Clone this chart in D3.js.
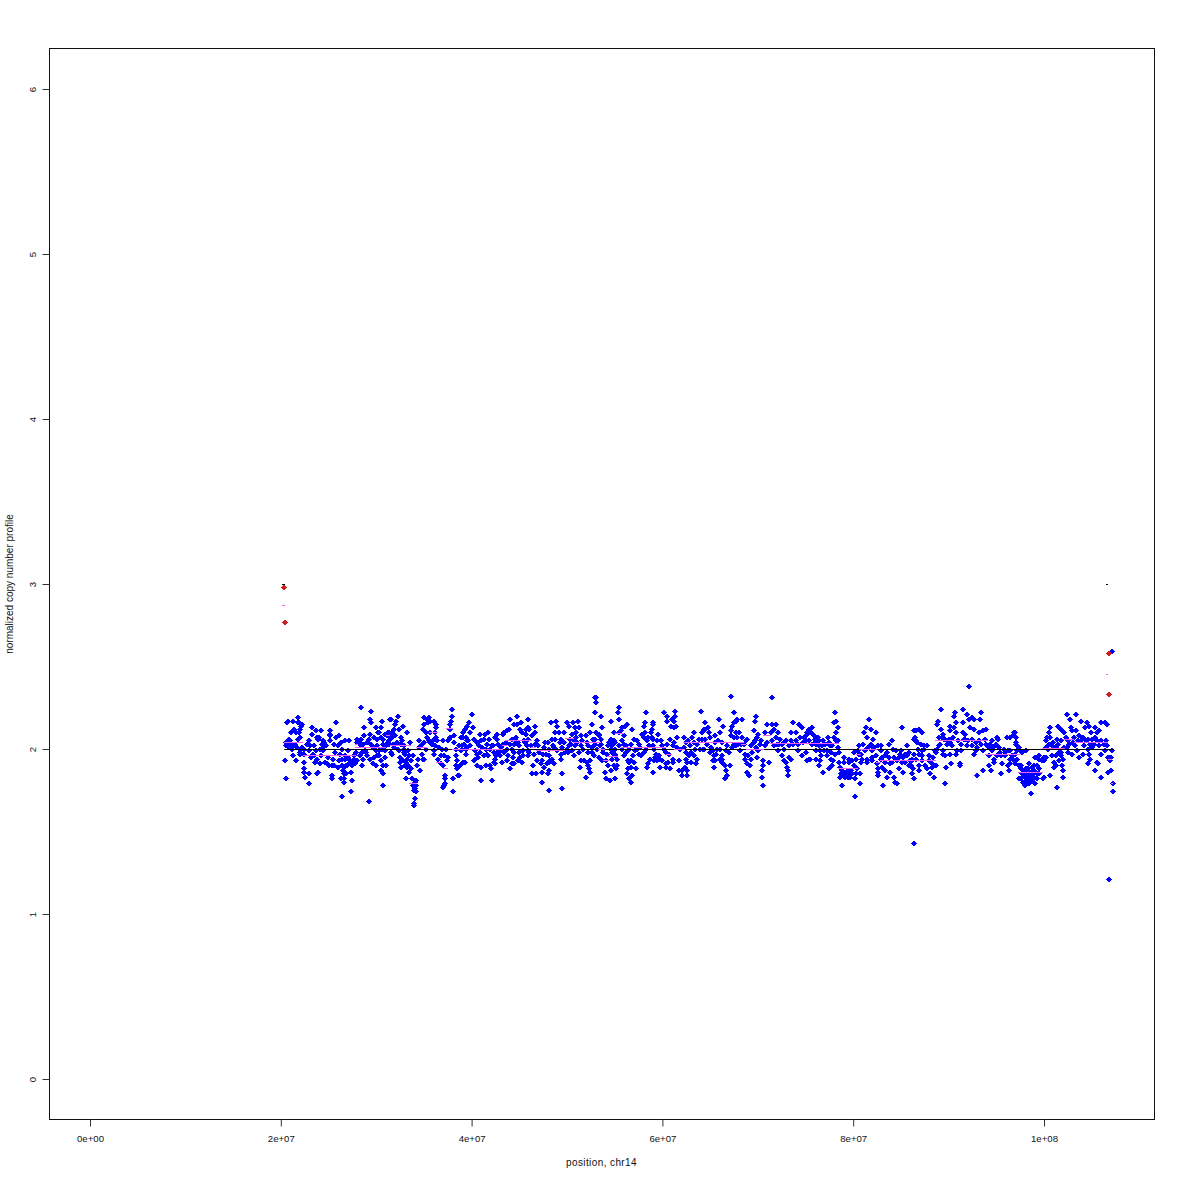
<!DOCTYPE html>
<html><head><meta charset="utf-8">
<script src="https://cdn.jsdelivr.net/npm/d3@7/dist/d3.min.js"></script>
<style>html,body{margin:0;padding:0;background:#fff}svg{display:block}text{font-family:"Liberation Sans",Arial,sans-serif;fill:#111}</style>
</head><body><div id="c"></div>
<script>
// [position in Mb, normalized copy number]
const bluePts20to31=[[21.7,2.19],[20.6,2.16],[20.7,2.17],[21.2,2.17],[21.7,2.16],[21.8,2.16],[22.2,2.15],[22.1,2.14],[21.0,2.10],[21.5,2.10],[21.8,2.10],[22.0,2.07],[21.7,2.06],[20.8,2.06],[20.5,2.04],[20.9,2.03],[21.1,2.03],[21.4,2.03],[20.5,2.02],[21.6,2.01],[20.8,2.01],[21.1,2.00],[22.0,2.00],[22.4,2.00],[22.0,1.98],[22.4,1.97],[21.2,1.96],[20.4,1.93],[21.5,1.93],[22.4,1.92],[22.4,1.88],[22.4,1.86],[22.5,1.83],[20.5,1.82],[22.9,1.79],[22.9,1.85],[23.2,2.13],[23.6,2.11],[24.2,2.11],[23.2,2.09],[23.7,2.07],[23.9,2.07],[23.8,2.06],[24.4,2.05],[24.3,2.03],[24.6,2.03],[23.0,2.02],[23.4,2.02],[24.4,2.01],[22.9,2.05],[23.6,1.99],[22.9,1.99],[24.0,2.00],[24.4,1.99],[23.4,1.96],[24.2,1.96],[23.7,1.94],[24.6,1.92],[23.8,1.86],[23.7,1.85],[25.3,1.84],[25.3,1.82],[24.8,1.91],[25.0,1.90],[25.3,1.90],[25.5,1.90],[25.1,2.11],[25.1,2.09],[25.1,2.08],[25.7,2.16],[26.0,2.08],[25.7,2.07],[25.1,2.05],[25.4,1.94],[25.6,1.98],[26.0,1.93],[25.9,1.89],[26.3,1.90],[26.6,1.89],[26.8,1.90],[26.6,1.85],[26.2,1.82],[26.6,1.82],[26.6,1.80],[26.3,1.71],[27.3,1.74],[27.4,1.81],[27.3,1.86],[26.8,1.85],[26.2,2.04],[26.7,2.05],[27.1,2.05],[26.4,2.00],[27.0,1.99],[26.7,1.96],[26.7,1.94],[27.6,1.96],[27.2,1.93],[27.1,1.91],[26.9,1.90],[27.6,1.94],[27.9,1.93],[27.5,1.92],[28.3,2.25],[29.4,2.23],[29.3,2.18],[29.4,2.16],[28.7,2.13],[27.9,2.06],[28.3,2.06],[27.9,2.04],[28.3,2.02],[28.6,2.03],[29.2,2.06],[29.0,2.04],[29.4,2.03],[28.8,1.99],[28.9,1.98],[29.0,1.96],[28.6,1.94],[28.5,1.90],[29.9,2.13],[30.2,2.10],[30.4,2.13],[30.5,2.17],[30.0,2.06],[30.4,2.07],[30.7,2.06],[30.0,2.02],[29.9,1.99],[30.2,1.99],[30.0,1.96],[29.7,1.95],[29.3,1.94],[30.4,1.93],[29.6,1.91],[29.9,1.90],[30.4,1.87],[30.6,1.85],[30.7,1.90],[31.0,1.90],[30.7,1.78],[29.2,1.68],[30.9,2.09],[31.2,2.10],[31.3,2.08],[31.2,2.04],[31.0,2.02],[30.9,1.99],[31.4,2.18],[24.5,2.04],[24.7,2.02],[24.2,2.00],[23.3,1.97],[20.9,2.05],[21.3,2.02],[21.9,1.97],[22.2,2.01],[27.4,1.90],[27.7,1.91],[26.5,1.87],[27.0,1.95],[28.1,2.04],[29.6,2.01],[30.2,1.96],[30.6,2.03]];
const bluePts31to42=[[32.2,2.20],[32.0,2.17],[31.5,2.18],[31.9,2.15],[31.8,2.12],[31.6,2.10],[31.3,2.10],[31.1,2.08],[31.4,2.08],[31.3,2.05],[31.6,2.07],[31.3,2.03],[31.7,2.03],[32.3,2.12],[32.7,2.14],[32.5,2.07],[32.6,2.05],[32.1,2.04],[32.5,2.03],[32.8,2.02],[33.2,2.10],[33.5,2.04],[32.9,2.00],[33.3,1.99],[32.8,1.98],[31.6,1.97],[32.4,1.95],[32.4,1.92],[32.5,1.89],[33.2,1.94],[33.4,1.96],[33.1,1.92],[33.3,1.90],[33.0,1.90],[33.2,1.89],[33.6,1.93],[33.6,1.88],[33.4,1.86],[34.2,1.90],[34.5,1.87],[33.1,1.82],[33.7,1.82],[34.0,1.80],[34.1,1.78],[34.0,1.76],[33.9,1.75],[34.1,1.74],[34.0,1.70],[33.9,1.67],[33.9,1.66],[34.4,2.05],[34.4,2.01],[34.3,1.94],[34.7,1.97],[34.8,1.94],[34.9,1.94],[34.9,2.19],[34.9,2.15],[34.8,2.12],[35.3,2.18],[35.5,2.19],[35.6,2.17],[35.4,2.16],[36.0,2.17],[36.2,2.15],[36.2,2.13],[35.2,2.10],[35.6,2.10],[36.1,2.10],[35.3,2.07],[35.5,2.05],[35.6,2.04],[36.2,2.07],[36.3,2.05],[36.1,2.02],[36.0,1.99],[36.0,1.97],[36.4,1.94],[36.7,1.96],[37.0,1.96],[37.5,1.95],[36.7,1.91],[36.9,1.90],[37.2,1.84],[37.2,1.82],[37.1,1.79],[37.0,1.78],[36.9,1.77],[38.0,1.74],[38.0,1.82],[38.5,1.84],[38.6,1.84],[36.9,2.05],[37.5,2.05],[37.3,2.00],[37.6,2.06],[37.7,2.07],[38.1,2.08],[38.1,2.04],[37.8,2.17],[37.9,2.20],[37.9,2.24],[37.7,2.15],[37.7,2.12],[38.3,2.00],[38.3,1.96],[38.4,1.93],[38.8,2.07],[39.0,2.10],[39.2,2.12],[39.0,2.07],[39.5,2.14],[39.7,2.16],[39.3,2.07],[39.5,2.05],[39.6,2.05],[38.9,2.02],[39.3,2.00],[39.5,2.01],[39.8,2.10],[40.1,2.13],[40.0,2.21],[38.9,2.00],[38.8,1.99],[38.4,1.88],[38.7,1.90],[39.0,1.92],[39.2,1.92],[38.3,1.90],[40.3,1.99],[40.5,1.97],[40.3,1.94],[40.2,1.93],[40.6,1.95],[40.5,1.90],[40.9,1.89],[41.4,1.90],[41.9,1.90],[42.0,1.88],[40.9,1.81],[42.1,1.81],[40.8,2.09],[41.3,2.09],[41.7,2.10],[40.5,2.04],[40.9,2.05],[41.2,2.06],[40.7,2.02],[41.0,2.01],[41.6,2.03],[41.4,2.00],[41.5,1.97],[41.7,1.96],[41.9,2.00],[42.1,2.02],[42.4,2.07],[42.3,1.98],[42.4,1.94],[42.4,1.91],[35.8,2.03],[39.4,1.97],[31.8,2.01],[32.2,2.00],[33.0,1.97],[34.1,1.81],[33.8,1.78]];
const bluePts42to53=[[53.0,2.31],[53.0,2.28],[52.9,2.22],[44.7,2.20],[44.0,2.18],[45.8,2.18],[44.4,2.15],[44.7,2.15],[45.1,2.16],[46.6,2.14],[45.9,2.13],[45.6,2.12],[46.0,2.12],[45.0,2.12],[43.9,2.12],[43.3,2.10],[42.6,2.09],[43.7,2.11],[43.2,2.09],[44.5,2.06],[44.2,2.06],[45.2,2.10],[45.6,2.09],[46.3,2.08],[46.6,2.10],[42.6,2.06],[43.0,2.01],[43.5,2.04],[44.0,2.03],[44.4,2.03],[44.8,2.04],[45.4,2.05],[45.9,2.06],[46.8,2.05],[46.6,2.03],[46.2,2.02],[45.7,2.02],[42.2,2.02],[43.0,1.99],[42.6,1.98],[42.5,1.96],[42.9,1.96],[43.3,1.98],[43.7,2.00],[44.2,2.00],[44.4,1.98],[44.9,1.98],[45.3,1.99],[45.8,1.99],[45.0,1.95],[45.8,1.96],[42.3,1.92],[43.6,1.93],[43.1,1.92],[44.0,1.88],[44.2,1.91],[44.4,1.91],[44.8,1.93],[45.2,1.92],[46.4,1.90],[42.1,1.81],[46.3,1.85],[46.7,1.85],[47.3,1.86],[47.3,1.80],[48.1,1.75],[49.4,1.76],[49.4,1.85],[47.9,1.85],[48.1,1.87],[47.5,1.89],[47.2,1.91],[46.8,1.93],[47.3,1.93],[47.0,1.98],[47.5,2.01],[48.0,2.00],[48.0,1.96],[47.7,1.97],[48.4,1.94],[48.2,1.93],[48.6,1.91],[49.3,1.97],[49.3,1.94],[50.7,1.96],[47.6,2.04],[48.3,2.16],[48.8,2.17],[48.9,2.14],[48.7,2.10],[49.1,2.10],[48.4,2.06],[48.7,2.06],[49.3,2.06],[49.6,2.10],[49.2,2.04],[49.6,2.04],[48.6,2.01],[49.4,2.01],[49.9,2.16],[50.1,2.14],[50.6,2.16],[51.1,2.17],[50.8,2.13],[51.2,2.13],[50.9,2.10],[50.5,2.09],[50.3,2.06],[50.7,2.05],[50.1,2.02],[51.4,2.08],[51.9,2.08],[51.5,2.05],[52.1,2.02],[50.8,2.02],[51.4,2.02],[49.9,2.00],[50.5,1.99],[51.2,1.98],[52.1,1.98],[52.6,2.01],[53.1,2.00],[53.4,2.02],[52.9,2.06],[52.7,2.06],[53.3,2.09],[53.0,2.10],[52.6,2.15],[51.4,1.93],[51.7,1.93],[52.0,1.92],[52.3,1.93],[52.1,1.90],[52.2,1.88],[51.9,1.83],[51.3,1.89],[52.4,1.86],[52.8,1.96],[53.3,1.95],[52.6,1.98],[44.6,2.07],[47.8,1.91],[48.0,1.92],[50.0,1.98],[50.2,2.03],[51.0,2.04],[45.5,2.04]];
const bluePts53to64=[[52.9,2.31],[53.0,2.28],[55.4,2.25],[55.3,2.22],[55.4,2.18],[53.5,2.20],[54.5,2.17],[53.6,2.13],[58.2,2.22],[60.1,2.22],[61.3,2.23],[60.4,2.20],[61.3,2.20],[61.2,2.17],[60.9,2.18],[60.4,2.17],[58.1,2.16],[58.9,2.16],[59.0,2.15],[58.0,2.14],[58.8,2.12],[60.8,2.14],[61.4,2.14],[61.2,2.13],[64.0,2.23],[64.4,2.16],[56.8,2.12],[56.2,2.15],[56.0,2.14],[55.7,2.13],[55.6,2.11],[54.9,2.10],[55.4,2.10],[55.9,2.08],[53.3,2.08],[53.5,2.06],[54.3,2.04],[54.9,2.05],[55.0,2.04],[55.7,2.05],[55.9,2.03],[56.1,2.02],[57.0,2.06],[57.3,2.05],[57.5,2.03],[57.8,2.09],[58.1,2.10],[58.7,2.10],[58.8,2.07],[58.0,2.07],[58.3,2.05],[58.9,2.06],[59.5,2.09],[59.4,2.05],[59.9,2.02],[60.4,2.03],[61.2,2.04],[61.0,2.02],[61.5,2.07],[62.2,2.07],[63.3,2.10],[64.3,2.12],[64.1,2.10],[63.8,2.06],[64.1,2.06],[62.4,2.04],[63.2,2.04],[62.8,2.02],[53.7,2.00],[54.5,2.00],[55.0,2.00],[55.0,1.96],[53.7,1.98],[54.1,1.97],[54.7,1.98],[55.0,1.97],[55.2,1.94],[54.7,1.94],[54.0,1.93],[54.2,1.90],[54.9,1.90],[55.2,1.90],[54.6,1.87],[55.1,1.88],[53.9,1.86],[54.0,1.82],[54.4,1.81],[55.0,1.82],[53.6,1.93],[55.7,2.00],[56.1,1.98],[56.4,2.00],[56.9,1.96],[57.5,1.97],[56.6,1.93],[56.3,1.93],[56.4,1.92],[57.0,1.92],[56.6,1.89],[57.2,1.88],[56.3,1.88],[56.2,1.85],[56.7,1.84],[56.4,1.82],[56.6,1.80],[57.7,1.96],[58.0,1.98],[57.1,1.99],[58.2,2.00],[58.5,2.02],[59.1,2.00],[59.6,1.96],[59.2,1.95],[59.7,1.94],[59.4,1.93],[59.9,1.93],[58.4,1.91],[58.3,1.89],[58.9,1.86],[59.7,1.89],[60.3,1.91],[60.5,1.92],[60.3,1.89],[60.7,1.88],[61.0,1.94],[61.1,1.92],[61.7,1.93],[60.3,1.98],[60.6,1.97],[61.8,2.00],[62.4,1.98],[62.9,1.98],[63.4,2.00],[63.9,2.00],[64.3,2.00],[62.7,1.96],[62.4,1.94],[62.5,1.92],[62.9,1.92],[63.5,1.91],[63.6,1.94],[62.3,1.89],[62.5,1.87],[62.5,1.84],[62.0,1.87],[62.0,1.84],[61.7,1.87],[54.7,2.02],[58.6,1.94],[59.1,1.93],[59.3,1.97],[63.2,1.96]];
const bluePts64to75=[[67.1,2.32],[71.4,2.31],[64.0,2.23],[67.4,2.22],[65.9,2.18],[67.8,2.18],[68.3,2.18],[69.8,2.20],[69.6,2.17],[64.4,2.16],[64.7,2.13],[66.3,2.14],[67.4,2.16],[67.2,2.14],[67.6,2.17],[67.1,2.11],[69.5,2.11],[64.3,2.11],[64.8,2.10],[66.0,2.10],[65.5,2.08],[64.9,2.07],[64.4,2.06],[65.8,2.05],[67.6,2.10],[68.0,2.10],[67.1,2.08],[67.4,2.07],[67.8,2.07],[68.3,2.07],[68.7,2.05],[70.0,2.09],[69.9,2.07],[70.2,2.03],[70.7,2.10],[71.3,2.10],[70.9,2.15],[71.4,2.15],[71.8,2.15],[72.1,2.10],[71.6,2.12],[71.8,2.07],[72.3,2.06],[73.4,2.10],[73.6,2.16],[74.3,2.15],[73.9,2.10],[74.6,2.13],[75.3,2.12],[75.1,2.09],[74.8,2.07],[75.3,2.05],[74.4,2.07],[73.9,2.05],[73.4,2.05],[72.7,2.04],[72.2,2.03],[70.7,2.02],[71.6,2.02],[64.2,2.00],[65.0,2.01],[65.2,1.99],[65.7,2.00],[66.0,2.00],[66.7,2.02],[67.4,2.03],[67.9,2.03],[68.5,2.03],[69.2,2.02],[69.6,2.05],[69.7,2.01],[68.1,1.99],[68.6,1.97],[69.3,1.98],[70.0,1.99],[70.5,1.93],[71.1,1.92],[69.9,1.95],[66.9,1.98],[66.2,1.96],[65.3,1.96],[65.5,1.93],[65.2,1.93],[65.3,1.89],[66.2,1.94],[66.2,1.92],[66.5,1.90],[67.0,1.90],[66.6,1.87],[66.7,1.84],[66.5,1.82],[68.6,1.94],[68.8,1.91],[69.1,1.90],[69.0,1.84],[68.8,1.86],[70.5,1.90],[70.4,1.87],[70.4,1.83],[70.5,1.78],[72.1,1.99],[72.5,1.96],[72.7,1.93],[72.9,1.92],[73.0,1.89],[73.1,1.87],[73.1,1.84],[73.2,1.95],[73.4,1.94],[74.1,1.99],[74.6,1.96],[75.1,1.93],[75.4,1.94],[72.7,2.00],[73.2,2.02],[65.6,1.97],[66.0,1.94],[68.9,1.96],[69.2,1.94]];
const bluePts75to86=[[78.0,2.22],[81.6,2.18],[78.1,2.17],[77.9,2.16],[78.3,2.13],[78.1,2.10],[75.6,2.13],[75.1,2.10],[75.5,2.10],[75.8,2.08],[76.2,2.07],[76.3,2.05],[76.8,2.05],[77.3,2.07],[77.9,2.07],[78.1,2.05],[78.3,2.05],[75.9,2.04],[76.0,2.03],[77.4,2.04],[77.7,2.02],[78.3,2.01],[78.4,1.98],[75.0,1.98],[76.0,1.99],[76.5,1.99],[76.9,1.99],[77.2,1.99],[77.6,1.98],[76.6,1.96],[77.6,1.94],[77.8,1.93],[75.3,1.94],[76.0,1.94],[76.5,1.93],[76.4,1.90],[76.8,1.86],[77.4,1.88],[77.7,1.90],[81.3,2.13],[81.8,2.12],[81.1,2.10],[82.3,2.10],[81.4,2.07],[81.0,2.03],[80.5,2.02],[81.8,2.03],[82.1,2.01],[80.4,1.99],[81.2,1.99],[81.9,1.99],[82.8,1.99],[82.9,2.02],[83.7,2.03],[84.0,2.05],[84.1,2.00],[85.1,2.13],[86.3,2.11],[86.4,2.07],[86.5,2.05],[85.6,2.02],[84.4,1.99],[84.9,1.99],[85.8,1.98],[80.5,1.97],[80.9,1.94],[81.4,1.94],[81.9,1.95],[82.3,1.96],[80.0,1.98],[79.5,1.94],[79.8,1.93],[80.2,1.94],[79.0,1.95],[79.0,1.92],[79.5,1.92],[80.0,1.90],[78.6,1.89],[78.8,1.87],[79.1,1.86],[79.5,1.86],[78.6,1.83],[79.1,1.83],[79.6,1.85],[80.2,1.85],[80.6,1.85],[80.1,1.82],[78.8,1.78],[80.6,1.79],[80.1,1.71],[80.8,1.92],[81.4,1.92],[81.9,1.93],[82.4,1.91],[82.8,1.94],[83.3,1.96],[83.7,1.95],[84.2,1.95],[84.7,1.95],[85.2,1.95],[86.1,1.94],[83.3,1.92],[83.8,1.91],[83.0,1.89],[83.3,1.87],[82.5,1.88],[82.5,1.86],[82.5,1.84],[83.8,1.86],[83.5,1.83],[83.1,1.78],[84.2,1.83],[84.3,1.80],[84.5,1.79],[84.7,1.88],[85.2,1.86],[85.8,1.90],[86.1,1.85],[86.3,1.82],[85.0,1.92],[85.4,1.92],[85.6,1.96],[79.2,1.84],[79.3,1.85],[79.4,1.83],[79.2,1.86],[79.0,1.84],[78.9,1.85],[79.6,1.83],[79.4,1.87],[79.7,1.87],[78.7,1.85],[79.8,1.85]];
const bluePts86to97=[[92.1,2.38],[89.1,2.24],[90.6,2.22],[90.5,2.20],[91.4,2.24],[91.9,2.21],[92.4,2.19],[93.3,2.22],[93.2,2.18],[92.1,2.18],[92.6,2.18],[88.8,2.17],[88.7,2.15],[89.1,2.12],[90.7,2.16],[91.4,2.16],[90.1,2.14],[90.5,2.13],[92.2,2.13],[92.6,2.12],[93.9,2.12],[86.5,2.11],[86.8,2.12],[90.1,2.11],[90.7,2.10],[91.4,2.10],[91.7,2.09],[93.1,2.10],[93.5,2.11],[89.3,2.09],[89.4,2.07],[88.9,2.07],[89.8,2.05],[90.1,2.04],[91.2,2.03],[91.7,2.06],[92.4,2.06],[93.1,2.05],[93.8,2.06],[95.0,2.07],[95.1,2.06],[94.5,2.05],[96.1,2.07],[96.4,2.07],[96.8,2.10],[97.0,2.07],[97.0,2.04],[86.3,2.06],[86.6,2.04],[87.2,2.10],[87.0,2.03],[87.4,2.02],[87.7,2.02],[86.7,2.00],[87.4,2.00],[88.5,1.99],[88.7,2.00],[89.3,1.99],[88.9,2.02],[89.8,2.03],[90.3,2.02],[91.2,1.99],[90.8,1.99],[91.9,2.02],[92.4,2.02],[92.9,2.01],[93.5,1.99],[92.8,1.99],[94.2,2.01],[94.5,1.99],[94.9,2.03],[95.2,2.01],[95.7,2.00],[96.2,1.99],[97.1,1.99],[97.3,2.01],[86.3,1.97],[86.8,1.97],[87.2,1.96],[87.9,1.96],[88.6,1.98],[89.6,1.96],[89.4,1.97],[90.7,1.97],[90.1,1.97],[92.6,1.97],[94.2,1.96],[94.7,1.94],[95.0,1.96],[95.4,1.96],[95.9,1.96],[96.6,1.96],[97.1,1.94],[86.1,1.93],[86.8,1.90],[87.5,1.90],[88.2,1.91],[88.6,1.90],[87.2,1.93],[87.9,1.93],[91.1,1.91],[90.2,1.91],[89.7,1.89],[91.1,1.90],[94.7,1.92],[94.2,1.90],[95.5,1.91],[96.2,1.90],[96.9,1.91],[97.3,1.90],[86.0,1.90],[86.2,1.88],[86.8,1.87],[88.0,1.85],[88.2,1.89],[88.4,1.83],[86.3,1.82],[89.6,1.79],[92.9,1.84],[93.5,1.87],[94.4,1.87],[95.4,1.85],[96.3,1.87],[97.5,1.88],[97.3,1.82]];
const bluePts97to107=[[102.4,2.21],[103.3,2.21],[102.7,2.18],[103.8,2.17],[104.4,2.16],[106.3,2.16],[105.9,2.16],[106.5,2.15],[100.6,2.13],[101.4,2.14],[101.7,2.12],[102.8,2.13],[102.9,2.11],[103.3,2.11],[104.2,2.13],[104.7,2.14],[105.3,2.13],[105.7,2.11],[105.5,2.10],[104.9,2.10],[102.0,2.10],[102.2,2.07],[100.5,2.10],[100.6,2.07],[100.1,2.05],[100.5,2.03],[101.3,2.06],[101.7,2.05],[102.5,2.05],[103.1,2.07],[103.6,2.08],[104.0,2.07],[104.5,2.06],[105.0,2.06],[105.3,2.07],[96.9,2.10],[96.7,2.08],[97.0,2.07],[97.0,2.03],[97.3,2.00],[98.1,1.99],[100.1,2.01],[100.8,2.02],[101.2,2.01],[102.0,2.01],[103.2,2.02],[103.8,2.05],[104.1,2.02],[106.4,2.05],[106.5,2.02],[105.7,2.02],[105.0,2.01],[104.5,2.00],[103.4,1.99],[102.5,1.98],[102.9,1.97],[101.7,1.98],[100.8,1.96],[101.2,1.96],[101.7,1.96],[101.9,1.94],[101.5,1.93],[101.0,1.92],[101.2,1.90],[101.8,1.90],[101.0,1.89],[99.4,1.96],[99.0,1.95],[99.9,1.95],[100.1,1.95],[99.4,1.94],[99.9,1.93],[99.2,1.90],[99.4,1.88],[98.9,1.90],[98.4,1.91],[98.7,1.89],[98.0,1.88],[97.5,1.90],[96.9,1.97],[96.4,1.94],[96.4,1.91],[97.1,1.94],[97.6,1.98],[105.9,1.97],[106.3,1.99],[106.9,1.95],[106.9,1.93],[104.7,1.97],[104.8,1.94],[105.5,1.92],[105.6,1.91],[104.6,1.91],[103.6,1.95],[104.0,1.97],[101.9,1.87],[101.9,1.83],[100.6,1.84],[99.2,1.85],[99.8,1.82],[99.9,1.83],[98.5,1.86],[98.2,1.85],[97.8,1.87],[97.5,1.82],[97.8,1.84],[97.7,1.80],[98.0,1.81],[98.4,1.82],[98.9,1.83],[99.0,1.79],[98.4,1.79],[97.9,1.78],[98.6,1.73],[101.3,1.77],[105.3,1.87],[105.9,1.83],[106.6,1.86],[107.0,1.87],[107.2,1.79],[107.2,1.74],[106.6,1.95],[107.0,1.95],[107.1,1.99],[98.1,1.86],[98.3,1.83],[98.6,1.84],[98.7,1.81],[98.9,1.87],[99.2,1.82],[97.9,1.83]];
const bluePtsDense=[[21.3,2.12],[21.9,2.12],[22.7,2.03],[23.1,1.95],[23.5,1.92],[24.0,1.91],[24.9,1.95],[25.5,2.03],[25.9,2.02],[26.1,1.97],[26.4,1.94],[27.8,1.98],[28.2,1.96],[28.4,1.98],[28.7,2.08],[29.3,2.09],[29.7,2.07],[30.1,2.10],[30.5,2.00],[30.9,1.95],[31.5,1.98],[31.9,2.08],[32.3,1.99],[32.7,1.93],[33.8,1.96],[34.6,2.02],[35.0,2.04],[35.2,2.00],[35.9,2.05],[36.5,2.01],[36.8,2.00],[37.4,1.93],[38.6,2.02],[39.1,2.03],[39.8,2.02],[40.2,2.06],[40.8,1.98],[41.2,1.96],[41.8,2.06],[42.7,2.03],[43.2,2.03],[43.8,1.96],[44.3,1.95],[44.9,2.02],[45.3,1.96],[46.0,1.98],[46.5,1.97],[46.9,2.02],[47.4,1.97],[47.9,2.04],[48.5,2.02],[48.9,1.99],[49.7,1.98],[50.4,2.03],[50.9,2.07],[51.6,2.00],[52.0,2.04],[52.4,2.10],[52.9,2.03],[53.5,2.03],[54.2,2.02],[54.6,2.06],[55.4,2.02],[55.9,1.96],[56.6,2.03],[57.3,2.00],[57.6,2.01],[58.4,2.07],[58.9,2.02],[59.8,2.05],[60.1,2.00],[60.7,2.06],[61.5,2.01],[62.2,2.01],[62.6,2.05],[63.0,2.07],[63.6,2.03],[64.6,2.03],[64.9,1.98],[65.4,2.04],[66.2,2.04],[66.6,1.99],[67.2,2.01],[67.7,2.02],[68.2,2.03],[68.8,2.06],[69.5,2.04],[70.3,2.05],[70.9,2.04],[71.4,2.05],[71.9,2.03],[72.5,2.03],[72.9,2.05],[73.6,2.03],[74.2,2.03],[74.7,2.04],[75.0,2.05],[75.6,2.03],[75.9,2.06],[76.3,2.02],[76.7,2.02],[77.0,2.03],[77.5,2.02],[77.2,1.96],[78.0,1.97],[78.5,1.92],[80.3,1.88],[80.8,1.97],[81.5,2.01],[82.0,2.06],[82.5,2.02],[83.0,1.95],[83.5,1.98],[84.0,1.92],[84.5,1.93],[84.8,1.97],[85.4,1.97],[85.9,1.93],[86.5,1.94],[87.1,1.99],[87.7,1.88],[88.3,1.95],[89.0,2.03],[89.5,2.06],[90.0,2.06],[90.4,2.07],[90.9,2.05],[91.5,2.06],[92.0,2.05],[92.8,2.04],[93.3,2.03],[93.9,2.03],[94.3,2.03],[94.6,2.01],[95.3,1.98],[95.8,1.98],[96.4,1.99],[96.7,1.94],[97.6,1.85],[98.3,1.88],[98.8,1.85],[99.4,1.85],[99.7,1.93],[100.4,2.00],[100.9,2.04],[101.4,2.03],[101.5,1.98],[102.3,2.01],[102.6,2.03],[103.0,2.04],[103.5,2.05],[104.3,2.05],[104.8,2.03],[105.2,2.03],[105.5,2.05],[105.9,2.05],[100.3,2.07],[106.2,2.03]];
const blueOutliers=[[86.3,1.425],[106.8,1.21],[107.1,2.59]];
const redPts=[[20.3,2.98],[20.4,2.765],[106.7,2.58],[106.7,2.33]];
// [start Mb, end Mb, copy number]
const segments=[[20.4,22.4,2.04],[22.4,27.9,1.96],[27.8,28.1,2.03],[27.8,29.7,2.01],[29.7,31.1,2.01],[31.1,31.5,2.08],[31.5,33.7,2.02],[33.5,34.3,1.79],[34.2,35.4,2.01],[35.6,36.5,2.10],[36.3,37.0,1.92],[37.0,37.6,1.88],[37.4,38.1,2.125],[38.0,43.3,2.0],[43.2,43.8,2.02],[43.5,46.4,2.05],[46.3,46.8,2.01],[46.8,49.8,1.99],[49.8,50.8,2.065],[50.7,53.6,2.04],[53.3,54.0,1.995],[53.8,54.5,1.93],[54.2,55.4,1.955],[55.1,56.0,2.095],[55.7,60.4,2.01],[60.4,61.1,1.97],[61.3,62.4,1.995],[62.2,68.6,2.04],[68.3,68.8,2.03],[68.8,70.7,1.998],[70.6,71.4,2.08],[71.3,78.6,2.035],[78.4,80.5,1.883],[80.3,80.9,1.97],[80.7,82.5,1.998],[82.4,83,1.92],[82.8,88.7,1.93],[88.6,92.6,2.053],[92.6,94.2,2.05],[93.9,97.5,1.97],[97.3,99.9,1.86],[99.8,102.2,2.005],[102,103.2,2.06],[103.2,106.7,2.04],[106.7,107.2,1.94],[107.1,107.3,1.79],[106.5,106.8,2.45],[20.2,20.5,2.87]];
const blackTicks=[[20.2,20.5,2.997],[106.5,106.8,3.0]];
const baseline=[[20.4,2],[107.3,2]];
const xTicks=[0,2e7,4e7,6e7,8e7,1e8];
const xTickLabels=["0e+00","2e+07","4e+07","6e+07","8e+07","1e+08"];
const yTicks=[0,1,2,3,4,5,6];
const xLabel="position, chr14";
const yLabel="normalized copy number profile";

const W=1180,H=1180,L=49,R=1154,T=48,B=1119;
const x=d3.scaleLinear().domain([0,1e8]).range([89.6,1043.6]);
const y=d3.scaleLinear().domain([0,6]).range([1078.6,88.6]);
const svg=d3.select("#c").append("svg").attr("width",W).attr("height",H);
const diamond="M0,-3L3,0L0,3L-3,0Z";
const plot=(data,color)=>svg.append("g").selectAll("path").data(data).join("path")
  .attr("d",diamond).attr("fill",color).attr("shape-rendering","crispEdges")
  .attr("transform",d=>`translate(${Math.round(x(d[0]*1e6))+0.5},${Math.round(y(d[1]))+0.5})`);
[bluePts20to31,bluePts31to42,bluePts42to53,bluePts53to64,bluePts64to75,bluePts75to86,bluePts86to97,bluePts97to107,bluePtsDense,blueOutliers].forEach(a=>plot(a,"#0000ff"));
plot(redPts,"#cc2020");
svg.append("line").attr("x1",x(baseline[0][0]*1e6)).attr("x2",x(baseline[1][0]*1e6))
  .attr("y1",Math.round(y(2))+.5).attr("y2",Math.round(y(2))+.5).attr("stroke","#000").attr("stroke-width",1.2);
svg.append("g").selectAll("line").data(segments).join("line")
  .attr("x1",d=>x(d[0]*1e6)).attr("x2",d=>x(d[1]*1e6))
  .attr("y1",d=>Math.round(y(d[2]))+.5).attr("y2",d=>Math.round(y(d[2]))+.5)
  .attr("stroke","#f060f0").attr("stroke-width",1).attr("shape-rendering","crispEdges");
svg.append("g").selectAll("line").data(blackTicks).join("line")
  .attr("x1",d=>x(d[0]*1e6)).attr("x2",d=>x(d[1]*1e6))
  .attr("y1",d=>Math.round(y(d[2]))+.5).attr("y2",d=>Math.round(y(d[2]))+.5)
  .attr("stroke","#000").attr("shape-rendering","crispEdges");
svg.append("rect").attr("x",L+.5).attr("y",T+.5).attr("width",R-L).attr("height",B-T)
  .attr("fill","none").attr("stroke","#111").attr("stroke-width",1);
const xAxis=d3.axisBottom(x).tickValues(xTicks).tickFormat((d,i)=>xTickLabels[i]).tickSize(7).tickPadding(9);
const gx=svg.append("g").attr("transform",`translate(0.4,${B+.5})`).call(xAxis);
gx.select(".domain").remove();
gx.selectAll("text").attr("font-size",9.6).attr("font-family","Liberation Sans").style("fill","#111");
gx.selectAll("line").attr("stroke","#333");
const yAxis=d3.axisLeft(y).tickValues(yTicks).tickFormat(d3.format("d")).tickSize(7).tickPadding(0);
const gy=svg.append("g").attr("transform",`translate(${L+.5},0.4)`).call(yAxis);
gy.select(".domain").remove();
gy.selectAll("line").attr("stroke","#333");
gy.selectAll("text").attr("font-size",9.6).attr("font-family","Liberation Sans").style("fill","#111")
  .attr("x",0).attr("y",0).attr("dy","0.35em").attr("text-anchor","middle")
  .attr("transform","translate(-17,0) rotate(-90)");
svg.append("text").attr("x",601.5).attr("y",1166).attr("text-anchor","middle").attr("font-size",10).attr("letter-spacing","0.4px").text(xLabel);
svg.append("text").attr("transform","translate(13,584) rotate(-90)").attr("text-anchor","middle").attr("font-size",10).text(yLabel);
</script></body></html>
